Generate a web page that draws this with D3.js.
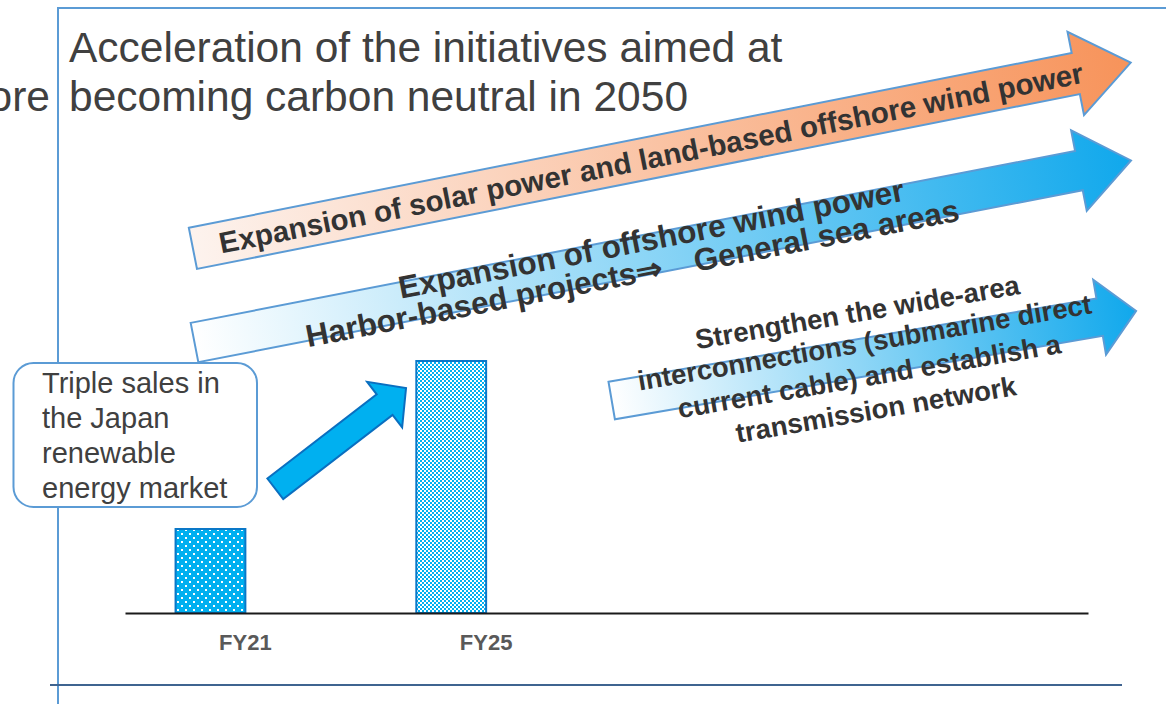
<!DOCTYPE html>
<html lang="en">
<head>
<meta charset="utf-8">
<title>Acceleration of the initiatives aimed at becoming carbon neutral in 2050</title>
<style>
  body { margin: 0; background: #fff; font-family: "Liberation Sans", Arial, sans-serif; }
  svg { display: block; }
  .title { font-size: 42.5px; fill: #404040; }
  .frame line { stroke: #5b9bd5; stroke-width: 2px; }
  .frame line.base { stroke: #3f6490; }
  .callout rect { fill: #fff; stroke: #5b9bd5; stroke-width: 2px; }
  .callout text { font-size: 29px; fill: #404040; }
  .arrow path { stroke: #5b9bd5; stroke-width: 2px; }
  .arrow text { font-weight: bold; fill: #333; text-anchor: middle; }
  .bar { stroke: #0a78c8; stroke-width: 2px; }
  .x.axis path { stroke: #1a1a1a; stroke-width: 2px; }
  .x.axis text { font-family: "Liberation Sans", Arial, sans-serif; font-size: 22px; font-weight: bold; fill: #595959; }
</style>
</head>
<body>
<script src="https://cdnjs.cloudflare.com/ajax/libs/d3/7.8.5/d3.min.js"></script>
<script>
// data
var categories = ["FY21", "FY25"];
var salesIndex = [1, 3];          // FY21 = 1, FY25 = triple
var slotCount = 4;                // the axis keeps room for two more years

var titleLines = ["Acceleration of the initiatives aimed at", "becoming carbon neutral in 2050"];
var cutText = "ore";
var calloutLines = ["Triple sales in", "the Japan", "renewable", "energy market"];
var solarLines = ["Expansion of solar power and land-based offshore wind power"];
var offshoreLines = ["Expansion of offshore wind power", "Harbor-based projects\u21d2\u3000General sea areas"];
var gridLines = ["Strengthen the wide-area", "interconnections (submarine direct", "current cable) and establish a", "transmission network"];

var width = 1166, height = 704;

var svg = d3.select("body").append("svg")
  .attr("width", width)
  .attr("height", height);

var defs = svg.append("defs");

var orange = defs.append("linearGradient").attr("id", "orangeGrad");
orange.append("stop").attr("offset", 0).attr("stop-color", "#fdf3ee");
orange.append("stop").attr("offset", 1).attr("stop-color", "#f7935a");

var blue = defs.append("linearGradient").attr("id", "blueGrad");
blue.append("stop").attr("offset", 0).attr("stop-color", "#ffffff");
blue.append("stop").attr("offset", 1).attr("stop-color", "#10a8ec");

// dotted fill for FY21
var dots = defs.append("pattern").attr("id", "dots")
  .attr("patternUnits", "userSpaceOnUse")
  .attr("width", 8).attr("height", 8);
dots.append("rect").attr("width", 8).attr("height", 8).attr("fill", "#00b0f0");
dots.append("rect").attr("x", 1).attr("y", 1).attr("width", 2).attr("height", 2).attr("fill", "#fff");
dots.append("rect").attr("x", 5).attr("y", 5).attr("width", 2).attr("height", 2).attr("fill", "#fff");

// checker fill for FY25
var checker = defs.append("pattern").attr("id", "checker")
  .attr("patternUnits", "userSpaceOnUse")
  .attr("width", 4).attr("height", 4);
checker.append("rect").attr("width", 4).attr("height", 4).attr("fill", "#fff");
checker.append("rect").attr("width", 2).attr("height", 2).attr("fill", "#00b0f0");
checker.append("rect").attr("x", 2).attr("y", 2).attr("width", 2).attr("height", 2).attr("fill", "#00b0f0");

// slide frame
var frame = svg.append("g").attr("class", "frame");
frame.append("line").attr("x1", 58).attr("x2", 58).attr("y1", 8).attr("y2", height);
frame.append("line").attr("x1", 57).attr("x2", width).attr("y1", 8).attr("y2", 8);
frame.append("line").attr("class", "base").attr("x1", 50).attr("x2", 1122).attr("y1", 685).attr("y2", 685);

// title (the slide's left column is cut off, leaving "ore")
svg.append("text").attr("class", "title")
  .attr("x", 50).attr("y", 111)
  .attr("text-anchor", "end")
  .text(cutText);

svg.selectAll("text.title.line")
  .data(titleLines)
  .enter()
  .append("text")
  .attr("class", "title line")
  .attr("x", 69)
  .attr("y", function(d, i) { return 62 + i * 49; })
  .text(function(d) { return d; });

// scales
var xScale = d3.scaleBand()
  .domain(d3.range(slotCount))
  .range([125, 1088]);

var yScale = d3.scaleLinear()
  .domain([0, 3])
  .range([613, 361]);

var barWidth = xScale.bandwidth() * 0.29;

// big arrows
var arrowLine = d3.line();

function arrowShape(len, shaft, head, headLen) {
  var b = len - headLen;
  return arrowLine([[0, -shaft], [b, -shaft], [b, -head], [len, 0], [b, head], [b, shaft], [0, shaft]]) + "Z";
}

var arrows = [
  { x: 192.9, y: 248.3, angle: -11.2, len: 956, shaft: 21, head: 42.5, headLen: 56,
    fill: "url(#orangeGrad)", lines: solarLines, size: 29.5, u: [467], v: [0] },
  { x: 194.5, y: 342.5, angle: -11.0, len: 954, shaft: 20, head: 41, headLen: 53,
    fill: "url(#blueGrad)", lines: offshoreLines, size: 31.5, u: [468, 443], v: [-15, 15] },
  { x: 611.7, y: 400.5, angle: -9.7, len: 532, shaft: 19, head: 38, headLen: 37,
    fill: "url(#blueGrad)", lines: gridLines, size: 27.5, u: [257, 259, 258, 259], v: [-46, -15, 19, 53] }
];

var arrowGroups = svg.selectAll("g.arrow")
  .data(arrows)
  .enter()
  .append("g")
  .attr("class", "arrow")
  .attr("transform", function(d) { return "translate(" + d.x + "," + d.y + ") rotate(" + d.angle + ")"; });

arrowGroups.append("path")
  .attr("d", function(d) { return arrowShape(d.len, d.shaft, d.head, d.headLen); })
  .attr("fill", function(d) { return d.fill; });

arrowGroups.each(function(a) {
  d3.select(this).selectAll("text")
    .data(a.lines)
    .enter()
    .append("text")
    .attr("x", function(d, i) { return a.u[i]; })
    .attr("y", function(d, i) { return a.v[i] + a.size * 0.36; })
    .style("font-size", a.size + "px")
    .text(function(d) { return d; });
});

// bars
svg.selectAll("rect.bar")
  .data(salesIndex)
  .enter()
  .append("rect")
  .attr("class", "bar")
  .attr("x", function(d, i) { return xScale(i) + xScale.bandwidth() / 2 - barWidth; })
  .attr("y", function(d) { return yScale(d); })
  .attr("width", barWidth)
  .attr("height", function(d) { return yScale(0) - yScale(d); })
  .attr("fill", function(d, i) { return i === 0 ? "url(#dots)" : "url(#checker)"; });

var xAxis = d3.axisBottom(xScale)
  .tickSize(0)
  .tickPadding(21)
  .tickFormat(function(i) { return categories[i] || ""; });

svg.append("g")
  .attr("class", "x axis")
  .attr("transform", "translate(0," + yScale(0) + ")")
  .call(xAxis);

// callout
var callout = svg.append("g").attr("class", "callout");
callout.append("rect")
  .attr("x", 13.5).attr("y", 363)
  .attr("width", 243.5).attr("height", 144)
  .attr("rx", 20);

callout.selectAll("text")
  .data(calloutLines)
  .enter()
  .append("text")
  .attr("x", 42)
  .attr("y", function(d, i) { return 393 + i * 35; })
  .text(function(d) { return d; });

// small growth arrow from callout to FY25 bar
svg.append("path")
  .attr("transform", "translate(275.3,488.8) rotate(-37.6)")
  .attr("d", arrowShape(165, 13, 28.7, 27))
  .attr("fill", "#00b0f0")
  .attr("stroke", "#0a6fc0")
  .attr("stroke-width", 2);
</script>
</body>
</html>
